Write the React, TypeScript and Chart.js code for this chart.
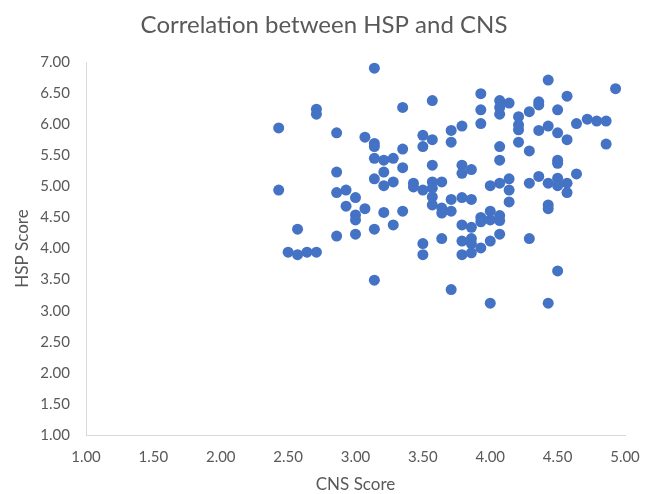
import React, { useEffect, useRef } from "react";
import { Chart, registerables } from "chart.js";

Chart.register(...registerables);

const TITLE = "Correlation between HSP and CNS";
const X_TITLE = "CNS Score";
const Y_TITLE = "HSP Score";

const cnsScore: number[] = [
  2.43, 2.43, 2.57, 2.50, 2.57, 2.64, 2.71, 2.71, 2.71, 2.86,
  2.86, 2.86, 2.86, 2.93, 2.93, 3.00, 3.00, 3.00, 3.00, 3.07,
  3.07, 3.14, 3.14, 3.14, 3.14, 3.14, 3.14, 3.14, 3.21, 3.21,
  3.21, 3.21, 3.28, 3.28, 3.28, 3.35, 3.35, 3.35, 3.35, 3.43,
  3.43, 3.50, 3.50, 3.50, 3.50, 3.50, 3.57, 3.57, 3.57, 3.57,
  3.57, 3.57, 3.57, 3.64, 3.64, 3.64, 3.64, 3.71, 3.71, 3.71,
  3.71, 3.71, 3.79, 3.79, 3.79, 3.79, 3.79, 3.79, 3.79, 3.86,
  3.86, 3.86, 3.86, 3.86, 3.86, 3.93, 3.93, 3.93, 3.93, 3.93,
  3.93, 4.00, 4.00, 4.00, 4.00, 4.00, 4.07, 4.07, 4.07, 4.07,
  4.07, 4.07, 4.07, 4.07, 4.07, 4.14, 4.14, 4.14, 4.14, 4.21,
  4.21, 4.21, 4.21, 4.29, 4.29, 4.29, 4.29, 4.36, 4.36, 4.36,
  4.36, 4.43, 4.43, 4.43, 4.43, 4.43, 4.43, 4.50, 4.50, 4.50,
  4.50, 4.50, 4.50, 4.50, 4.57, 4.57, 4.57, 4.57, 4.64, 4.64,
  4.72, 4.79, 4.86, 4.86, 4.93,
];

const hspScore: number[] = [
  5.94, 4.94, 4.31, 3.94, 3.90, 3.94, 3.94, 6.24, 6.16, 5.86,
  5.23, 4.90, 4.20, 4.94, 4.68, 4.82, 4.54, 4.46, 4.23, 5.79,
  4.64, 6.90, 5.69, 5.64, 5.45, 5.12, 4.31, 3.49, 5.42, 5.23,
  5.01, 4.58, 5.45, 5.07, 4.38, 6.27, 5.60, 5.30, 4.60, 5.05,
  4.99, 5.82, 5.64, 4.94, 4.08, 3.90, 6.38, 5.75, 5.34, 5.07,
  4.97, 4.83, 4.70, 5.07, 4.65, 4.57, 4.16, 5.90, 5.71, 4.79,
  4.60, 3.34, 5.97, 5.34, 5.21, 4.82, 4.38, 4.12, 3.90, 5.27,
  4.79, 4.34, 4.16, 4.08, 3.93, 6.49, 6.23, 6.01, 4.50, 4.43,
  4.01, 5.01, 4.60, 4.46, 4.12, 3.12, 6.38, 6.27, 6.16, 5.64,
  5.42, 5.05, 4.53, 4.45, 4.23, 6.34, 5.12, 4.94, 4.75, 6.12,
  5.99, 5.91, 5.71, 6.20, 5.57, 5.05, 4.16, 6.36, 6.31, 5.90,
  5.16, 6.71, 5.97, 5.05, 4.70, 4.64, 3.12, 6.23, 5.86, 5.42,
  5.37, 5.13, 5.01, 3.64, 6.45, 5.75, 5.05, 4.90, 6.01, 5.20,
  6.08, 6.05, 6.05, 5.68, 6.57,
];

const X_MIN = 1;
const X_MAX = 5;
const X_STEP = 0.5;
const Y_MIN = 1;
const Y_MAX = 7;
const Y_STEP = 0.5;

const FONT = "Lato, 'Open Sans', sans-serif";
const TEXT_COLOR = "#595959";
const AXIS_COLOR = "#d9d9d9";
const POINT_COLOR = "#4472C4";

const titlePlugin = {
  id: "chartTitleText",
  afterDraw(chart: any) {
    const ctx = chart.ctx;
    ctx.save();
    ctx.font = `normal 24px ${FONT}`;
    ctx.fillStyle = TEXT_COLOR;
    ctx.textAlign = "center";
    ctx.textBaseline = "alphabetic";
    ctx.fillText(TITLE, 324, 33);
    ctx.restore();
  },
};

export default function App() {
  const canvasRef = useRef<HTMLCanvasElement | null>(null);

  useEffect(() => {
    document.body.style.margin = "0";
    const canvas = canvasRef.current;
    if (!canvas) return;
    const points = cnsScore.map((x, i) => ({ x, y: hspScore[i] }));
    const chart = new Chart(canvas, {
      type: "scatter",
      data: {
        datasets: [
          {
            label: "HSP",
            data: points,
            backgroundColor: POINT_COLOR,
            borderColor: POINT_COLOR,
            borderWidth: 0,
            pointRadius: 5.5,
          },
        ],
      },
      plugins: [titlePlugin],
      options: {
        animation: false,
        responsive: false,
        maintainAspectRatio: false,
        layout: { padding: { left: 0, right: 31, top: 62, bottom: 0 } },
        plugins: {
          legend: { display: false },
          tooltip: { enabled: false },
          title: { display: false },
        },
        scales: {
          x: {
            type: "linear",
            min: X_MIN,
            max: X_MAX,
            afterFit: (scale: any) => {
              scale.height = 59;
            },
            ticks: {
              stepSize: X_STEP,
              color: TEXT_COLOR,
              font: { family: FONT, size: 15 },
              padding: 13,
              maxRotation: 0,
              callback: (v: any) => Number(v).toFixed(2),
            },
            grid: { display: false, drawTicks: false },
            border: { display: true, color: AXIS_COLOR, width: 1 },
            title: {
              display: true,
              text: X_TITLE,
              color: TEXT_COLOR,
              font: { family: FONT, size: 17, lineHeight: 1.0 },
              padding: { top: 0, bottom: 0.5 },
            },
          },
          y: {
            type: "linear",
            min: Y_MIN,
            max: Y_MAX,
            afterFit: (scale: any) => {
              scale.width = 86;
            },
            ticks: {
              stepSize: Y_STEP,
              color: TEXT_COLOR,
              font: { family: FONT, size: 15 },
              padding: 16,
              callback: (v: any) => Number(v).toFixed(2),
            },
            grid: { display: false, drawTicks: false },
            border: { display: true, color: AXIS_COLOR, width: 1 },
            title: {
              display: true,
              text: Y_TITLE,
              color: TEXT_COLOR,
              font: { family: FONT, size: 17, lineHeight: 1.2 },
              padding: { top: 12, bottom: 0 },
            },
          },
        },
      },
    });
    return () => chart.destroy();
  }, []);

  return (
    <div style={{ width: 656, height: 494 }}>
      <canvas ref={canvasRef} width={656} height={494} style={{ display: "block" }} />
    </div>
  );
}
